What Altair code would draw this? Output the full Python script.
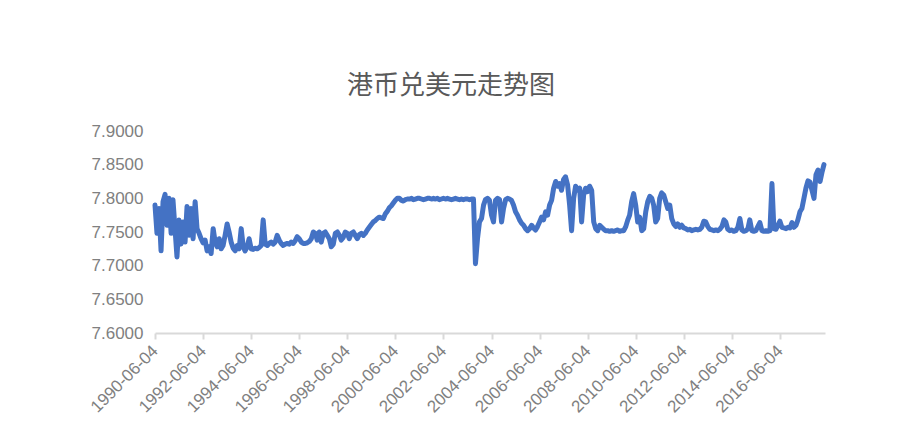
import altair as alt
import pandas as pd

# Monthly readings of the HKD/USD rate (June 1990 .. April 2018)
r1990 = [7.790, 7.748, 7.785, 7.722, 7.795, 7.806, 7.760]
r1991 = [7.800, 7.748, 7.798, 7.755, 7.713, 7.768, 7.732, 7.765, 7.735, 7.788, 7.745, 7.785]
r1992 = [7.740, 7.795, 7.755, 7.748, 7.740, 7.734, 7.738, 7.722, 7.728, 7.718, 7.755, 7.735]
r1993 = [7.728, 7.740, 7.725, 7.730, 7.745, 7.762, 7.750, 7.735, 7.726, 7.722, 7.730, 7.725]
r1994 = [7.755, 7.728, 7.722, 7.728, 7.740, 7.725, 7.724, 7.726, 7.725, 7.727, 7.730, 7.768]
r1995 = [7.732, 7.730, 7.733, 7.735, 7.732, 7.735, 7.745, 7.738, 7.733, 7.730, 7.732, 7.733]
r1996 = [7.732, 7.735, 7.733, 7.737, 7.743, 7.740, 7.735, 7.733, 7.733, 7.734, 7.736, 7.740]
r1997 = [7.750, 7.748, 7.738, 7.750, 7.735, 7.748, 7.750, 7.745, 7.740, 7.728, 7.732, 7.748]
r1998 = [7.750, 7.745, 7.738, 7.742, 7.750, 7.748, 7.740, 7.748, 7.750, 7.745, 7.740, 7.746]
r1999 = [7.748, 7.745, 7.748, 7.753, 7.757, 7.761, 7.765, 7.767, 7.770, 7.772, 7.771, 7.770]
r2000 = [7.777, 7.781, 7.786, 7.789, 7.793, 7.797, 7.800, 7.800, 7.797, 7.796, 7.798, 7.799]
r2001 = [7.799, 7.800, 7.798, 7.799, 7.800, 7.800, 7.799, 7.798, 7.799, 7.800, 7.800, 7.799]
r2002 = [7.800, 7.799, 7.800, 7.798, 7.799, 7.800, 7.799, 7.800, 7.799, 7.798, 7.799, 7.800]
r2003 = [7.799, 7.798, 7.799, 7.798, 7.799, 7.799, 7.798, 7.799, 7.799, 7.703, 7.740, 7.765]
r2004 = [7.770, 7.790, 7.798, 7.800, 7.797, 7.775, 7.765, 7.797, 7.800, 7.798, 7.765, 7.785]
r2005 = [7.798, 7.800, 7.799, 7.797, 7.790, 7.780, 7.775, 7.768, 7.763, 7.760, 7.755, 7.752]
r2006 = [7.755, 7.760, 7.756, 7.753, 7.758, 7.765, 7.772, 7.768, 7.780, 7.775, 7.790, 7.797]
r2007 = [7.815, 7.825, 7.818, 7.822, 7.812, 7.828, 7.832, 7.820, 7.790, 7.752, 7.800, 7.818]
r2008 = [7.812, 7.815, 7.765, 7.805, 7.815, 7.810, 7.818, 7.812, 7.765, 7.755, 7.752, 7.760]
r2009 = [7.757, 7.754, 7.752, 7.752, 7.751, 7.752, 7.751, 7.752, 7.753, 7.751, 7.752, 7.752]
r2010 = [7.758, 7.768, 7.775, 7.795, 7.807, 7.790, 7.765, 7.772, 7.752, 7.755, 7.780, 7.795]
r2011 = [7.803, 7.800, 7.790, 7.765, 7.770, 7.800, 7.808, 7.805, 7.795, 7.785, 7.790, 7.770]
r2012 = [7.762, 7.758, 7.762, 7.757, 7.760, 7.756, 7.755, 7.753, 7.754, 7.752, 7.753, 7.754]
r2013 = [7.753, 7.754, 7.757, 7.766, 7.765, 7.758, 7.754, 7.753, 7.752, 7.753, 7.752, 7.754]
r2014 = [7.758, 7.768, 7.765, 7.754, 7.752, 7.753, 7.751, 7.752, 7.757, 7.770, 7.753, 7.751]
r2015 = [7.752, 7.755, 7.768, 7.752, 7.751, 7.752, 7.758, 7.764, 7.752, 7.751, 7.752, 7.751]
r2016 = [7.752, 7.822, 7.755, 7.754, 7.760, 7.766, 7.757, 7.756, 7.755, 7.757, 7.756, 7.764]
r2017 = [7.757, 7.760, 7.768, 7.780, 7.785, 7.800, 7.815, 7.826, 7.824, 7.812, 7.800, 7.835]
r2018 = [7.842, 7.825, 7.838, 7.850]

years = {
    1990: r1990, 1991: r1991, 1992: r1992, 1993: r1993, 1994: r1994, 1995: r1995,
    1996: r1996, 1997: r1997, 1998: r1998, 1999: r1999, 2000: r2000, 2001: r2001,
    2002: r2002, 2003: r2003, 2004: r2004, 2005: r2005, 2006: r2006, 2007: r2007,
    2008: r2008, 2009: r2009, 2010: r2010, 2011: r2011, 2012: r2012, 2013: r2013,
    2014: r2014, 2015: r2015, 2016: r2016, 2017: r2017, 2018: r2018,
}

tick_labels = ["1990-06-04", "1992-06-04", "1994-06-04", "1996-06-04", "1998-06-04",
               "2000-06-04", "2002-06-04", "2004-06-04", "2006-06-04", "2008-06-04",
               "2010-06-04", "2012-06-04", "2014-06-04", "2016-06-04"]
y_ticks = [7.60, 7.65, 7.70, 7.75, 7.80, 7.85, 7.90]

rows = []
for yr, vals in years.items():
    start_month = 6 if yr == 1990 else 1
    for i, v in enumerate(vals):
        rows.append({"date": f"{yr}-{start_month + i:02d}-04", "rate": v})
df = pd.DataFrame(rows)

grey_text = "#808080"

line = alt.Chart(df).mark_line(
    color="#4472C4", strokeWidth=5, strokeJoin="round", strokeCap="round"
).encode(
    x=alt.X(
        "date:T",
        scale=alt.Scale(domain=["1990-06-04", "2018-04-20"]),
        axis=alt.Axis(
            title=None,
            values=tick_labels,
            format="%Y-%m-%d",
            labelAngle=-45,
            labelAlign="right",
            labelBaseline="middle",
            labelFontSize=17,
            labelFont="Liberation Sans",
            labelColor=grey_text,
            labelPadding=9,
            domainColor="#d9d9d9",
            domainWidth=2,
            tickColor="#d9d9d9",
            tickWidth=2,
            tickSize=6,
            grid=False,
            labelOverlap=False,
            labelFlush=False,
        ),
    ),
    y=alt.Y(
        "rate:Q",
        scale=alt.Scale(domain=[7.6, 7.9], nice=False, zero=False),
        axis=alt.Axis(
            title=None,
            values=y_ticks,
            format=".4f",
            labelFontSize=17,
            labelFont="Liberation Sans",
            labelColor=grey_text,
            labelPadding=12,
            domain=False,
            ticks=False,
            grid=False,
        ),
    ),
)

chart = line.properties(
    width=670,
    height=202,
    background="white",
    autosize=alt.AutoSizeParams(type="none"),
    padding={"left": 147, "top": 123, "right": 70, "bottom": 90},
    title=alt.TitleParams(
        text="港币兑美元走势图",
        font="Noto Sans CJK SC",
        fontSize=26,
        fontWeight="normal",
        color="#595959",
        anchor="middle",
        baseline="middle",
        offset=10,
        dx=-39,
    ),
).configure_view(strokeWidth=0, stroke="transparent")

chart.save("out.html", embed_options={"renderer": "svg", "actions": False})
